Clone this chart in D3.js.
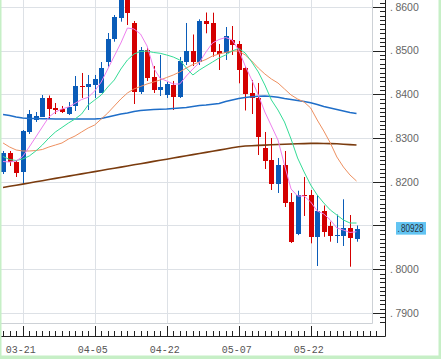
<!DOCTYPE html>
<html><head><meta charset="utf-8">
<script src="https://cdn.jsdelivr.net/npm/d3@7"></script>
<style>html,body{margin:0;padding:0;background:#fff}svg{display:block}</style>
</head><body>
<svg id="chart" width="441" height="359"></svg>
<script>
// ---- data ----
const dates = ["03-18","03-19","03-20","03-21","03-22","03-25","03-26","03-27","03-28","03-29",
"04-01","04-02","04-03","04-04","04-05","04-08","04-09","04-10","04-11","04-12",
"04-15","04-16","04-17","04-18","04-19","04-22","04-23","04-24","04-25","04-26",
"04-29","04-30","05-01","05-02","05-03","05-06","05-07","05-08","05-09","05-10",
"05-13","05-14","05-15","05-16","05-17","05-20","05-21","05-22","05-23","05-24",
"05-27","05-28","05-29","05-30","05-31"];
const open = [0.82224,0.82659,0.82453,0.82224,0.83140,0.83414,0.83490,0.83929,0.83689,0.83666,
0.83551,0.83735,0.84192,0.84158,0.84215,0.84039,0.84748,0.85261,0.85741,0.86229,
0.85634,0.84055,0.85016,0.84391,0.84101,0.83975,0.84226,0.83947,0.84748,0.84993,
0.84730,0.85687,0.85641,0.85000,0.84954,0.85245,0.85153,0.84597,0.84032,0.83911,
0.82773,0.82499,0.81950,0.82384,0.81545,0.80802,0.81698,0.81698,0.80741,0.81332,
0.80989,0.80764,0.80768,0.80936,0.80689];
const high = [0.82705,0.82705,0.82499,0.83185,0.83643,0.83597,0.83986,0.83975,0.83803,0.83735,
0.83826,0.84421,0.84490,0.84444,0.84444,0.84741,0.85405,0.85817,0.86343,0.86389,
0.85680,0.85085,0.85085,0.84650,0.84902,0.84284,0.84307,0.84856,0.85634,0.85371,
0.85719,0.85874,0.85870,0.85153,0.85542,0.85565,0.85222,0.84650,0.84330,0.84261,
0.83140,0.83002,0.82545,0.82705,0.81744,0.81796,0.82110,0.81812,0.81698,0.81458,
0.81087,0.81252,0.81600,0.81240,0.81000];
const low = [0.82178,0.82362,0.82110,0.81950,0.83094,0.83369,0.83483,0.83437,0.83551,0.83574,
0.83528,0.83620,0.83918,0.83643,0.83918,0.84032,0.84634,0.85206,0.85664,0.85588,
0.83780,0.84009,0.84307,0.84032,0.83963,0.83918,0.83643,0.83918,0.84673,0.84650,
0.84673,0.85398,0.84863,0.84558,0.84787,0.84902,0.84254,0.83632,0.83551,0.82613,
0.82293,0.81812,0.81744,0.81423,0.80599,0.80780,0.81218,0.80592,0.80073,0.80741,
0.80629,0.80599,0.80531,0.80057,0.80629];
const close = [0.82659,0.82453,0.82208,0.83162,0.83551,0.83506,0.83929,0.83677,0.83632,0.83597,
0.83712,0.84192,0.84158,0.84238,0.84352,0.84597,0.85261,0.85764,0.86252,0.85856,
0.84055,0.85016,0.84375,0.84101,0.84169,0.84238,0.83941,0.84764,0.84993,0.84748,
0.85687,0.85611,0.84977,0.84924,0.85336,0.85130,0.84558,0.84009,0.83911,0.83032,
0.82483,0.81950,0.82384,0.81522,0.80629,0.81698,0.81675,0.80741,0.81332,0.80849,
0.80768,0.80791,0.80936,0.80705,0.80928];
const ma5 = [0.82464,0.82453,0.82476,0.82579,0.82796,0.83025,0.83254,0.83483,0.83597,0.83666,
0.83712,0.83796,0.83883,0.83934,0.84078,0.84284,0.84581,0.84879,0.85176,0.85519,
0.85497,0.85382,0.85108,0.84604,0.84368,0.84307,0.84238,0.84238,0.84421,0.84581,
0.84730,0.84970,0.85176,0.85256,0.85302,0.85245,0.85016,0.84650,0.84330,0.83986,
0.83597,0.83277,0.82957,0.82384,0.81835,0.81675,0.81675,0.81538,0.81332,0.81263,
0.81126,0.80943,0.80897,0.80840,0.80858];
const ma10 = [0.82579,0.82510,0.82487,0.82522,0.82590,0.82705,0.82842,0.83002,0.83140,0.83243,
0.83346,0.83437,0.83551,0.83757,0.83872,0.83986,0.84169,0.84330,0.84581,0.84787,
0.84924,0.84982,0.84993,0.84959,0.84941,0.84902,0.84856,0.84787,0.84604,0.84444,
0.84558,0.84650,0.84741,0.84833,0.84902,0.84993,0.85050,0.84947,0.84741,0.84513,
0.84215,0.83872,0.83643,0.83368,0.82979,0.82545,0.82224,0.81927,0.81698,0.81515,
0.81355,0.81240,0.81126,0.81057,0.81057];
const ma25 = [0.82888,0.82796,0.82728,0.82705,0.82705,0.82716,0.82739,0.82796,0.82842,0.82888,
0.82979,0.83048,0.83140,0.83231,0.83300,0.83437,0.83574,0.83735,0.83895,0.84032,
0.84124,0.84181,0.84238,0.84284,0.84330,0.84387,0.84444,0.84513,0.84604,0.84684,
0.84741,0.84799,0.84879,0.84924,0.84959,0.84993,0.84993,0.84902,0.84764,0.84604,
0.84467,0.84352,0.84261,0.84124,0.83986,0.83895,0.83826,0.83689,0.83414,0.83163,
0.82888,0.82568,0.82339,0.82156,0.82018];
const ma75 = [0.83540,0.83517,0.83483,0.83460,0.83449,0.83449,0.83444,0.83442,0.83437,0.83437,
0.83437,0.83437,0.83437,0.83437,0.83437,0.83449,0.83483,0.83517,0.83551,0.83574,
0.83609,0.83632,0.83643,0.83655,0.83659,0.83666,0.83677,0.83689,0.83700,0.83723,
0.83746,0.83757,0.83773,0.83792,0.83838,0.83872,0.83906,0.83929,0.83947,0.83956,
0.83963,0.83952,0.83934,0.83906,0.83883,0.83860,0.83838,0.83810,0.83769,0.83723,
0.83689,0.83655,0.83620,0.83586,0.83563];
const ma200 = [0.81870,0.81897,0.81922,0.81947,0.81973,0.82000,0.82025,0.82053,0.82078,0.82103,
0.82130,0.82156,0.82181,0.82206,0.82233,0.82259,0.82286,0.82311,0.82336,0.82362,
0.82389,0.82414,0.82439,0.82467,0.82492,0.82517,0.82545,0.82570,0.82595,0.82622,
0.82648,0.82673,0.82700,0.82725,0.82751,0.82778,0.82803,0.82819,0.82826,0.82833,
0.82840,0.82847,0.82854,0.82858,0.82865,0.82870,0.82874,0.82879,0.82879,0.82877,
0.82874,0.82870,0.82860,0.82851,0.82842];
const priceTicks = [0.79,0.80,0.81,0.82,0.83,0.84,0.85,0.86];
const priceLabels = ["7900","8000","8100","8200","8300","8400","8500","8600"];
const dateTicks = ["03-21","04-05","04-22","05-07","05-22"];
const lastPrice = 0.80928;
const lastLabel = "80928";

// ---- layout ----
const W = 441, H = 359;
const plotR = 372, plotB = 323, axisX = 385, axisY = 336;
const svg = d3.select("#chart");
svg.append("rect").attr("width", W).attr("height", H).attr("fill", "#fff");

const x = d3.scaleLinear().domain([0, dates.length - 1]).range([3.06, 356.5]);
const y = d3.scaleLinear().domain([0.79, 0.86]).range([312.9, 7]);
const px = v => Math.round(x(v)) + 0.5;
const py = v => Math.round(y(v)) + 0.5;

svg.append("clipPath").attr("id", "clip").append("rect")
  .attr("x", 0).attr("y", 0).attr("width", plotR).attr("height", plotB);

// grid
const grid = svg.append("g").attr("stroke", "#dde1e6").attr("stroke-width", 1);
priceTicks.forEach(v => grid.append("line").attr("x1", 0).attr("x2", plotR)
  .attr("y1", py(v)).attr("y2", py(v)));
dateTicks.forEach(d => { const i = dates.indexOf(d);
  grid.append("line").attr("x1", px(i)).attr("x2", px(i)).attr("y1", 0).attr("y2", plotB); });

// frame
svg.append("path").attr("d", `M${plotR + 0.5},0V${plotB + 0.5}H0`)
  .attr("fill", "none").attr("stroke", "#cdd1d6");

// candles
const plot = svg.append("g").attr("clip-path", "url(#clip)");
const up = "#0a5cb8", down = "#d40000";
dates.forEach((d, i) => {
  const c = close[i] >= open[i] ? up : down;
  plot.append("line").attr("x1", px(i)).attr("x2", px(i))
    .attr("y1", y(high[i])).attr("y2", y(low[i])).attr("stroke", c).attr("stroke-width", 1);
  const top = y(Math.max(open[i], close[i])), bot = y(Math.min(open[i], close[i]));
  plot.append("rect").attr("x", Math.round(x(i)) - 2).attr("width", 5)
    .attr("y", Math.round(top)).attr("height", Math.max(1, Math.round(bot) - Math.round(top)))
    .attr("fill", c);
});

// moving averages
const line = d3.line().x((d, i) => x(i)).y(d => y(d));
[[ma200, "#7a3b0e", 1.6], [ma75, "#1f6ec8", 1.5], [ma25, "#ee9060", 1],
 [ma10, "#34dc96", 1], [ma5, "#ee80ee", 1]].forEach(([arr, col, w]) => {
  plot.append("path").datum(arr).attr("d", line).attr("fill", "none")
    .attr("stroke", col).attr("stroke-width", w);
});

// right axis
const ax = svg.append("g").attr("stroke", "#222").attr("stroke-width", 1);
ax.append("path").attr("d", `M${axisX + 0.5},0V${axisY + 0.5}H0`).attr("fill", "none");
d3.range(788, 862).forEach(m => {
  const v = m / 1000, isMajor = m % 10 === 0;
  const yy = py(v);
  if (yy > axisY) return;
  ax.append("line").attr("x1", axisX - (isMajor ? 12 : 5)).attr("x2", axisX)
    .attr("y1", yy).attr("y2", yy);
});
priceTicks.forEach((v, i) => {
  if (Math.abs(v - 0.81) < 1e-9) return;
  const t = svg.append("text").attr("x", 390).attr("y", y(v)).attr("dy", "0.36em")
    .attr("font-family", "Liberation Sans, Arial, sans-serif").attr("font-size", 10.5)
    .attr("fill", "#666").text(".");
  t.append("tspan").attr("dx", 2.5).text(priceLabels[i]);
});
// last price marker
svg.append("rect").attr("x", 396).attr("y", y(lastPrice) - 6.6).attr("width", 30).attr("height", 12.6)
  .attr("fill", "#62c4f2");
const lt = svg.append("text").attr("x", 397.5).attr("y", y(lastPrice)).attr("dy", "0.36em")
  .attr("font-family", "Liberation Sans, Arial, sans-serif").attr("font-size", 10.5)
  .attr("fill", "#2a3340").attr("textLength", 26).attr("lengthAdjust", "spacingAndGlyphs").text(".");
lt.append("tspan").attr("dx", 1.5).text(lastLabel);

// bottom axis ticks
d3.range(0, 58).forEach(i => {
  const xx = px(i);
  if (xx > axisX) return;
  const isMajor = dateTicks.includes(dates[i]);
  ax.append("line").attr("x1", xx).attr("x2", xx)
    .attr("y1", axisY - (isMajor ? 10 : 5)).attr("y2", axisY);
});
dateTicks.forEach(d => {
  const i = dates.indexOf(d);
  svg.append("text").attr("x", x(i) - 2).attr("y", 349).attr("dy", "0.35em")
    .attr("text-anchor", "middle").attr("font-family", "Liberation Mono, Courier New, monospace")
    .attr("font-size", 10).attr("fill", "#555").text(d);
});

// outer green border
svg.append("rect").attr("x", 0).attr("y", 0).attr("width", 1.5).attr("height", H).attr("fill", "#c6efc6");
svg.append("rect").attr("x", 438.5).attr("y", 0).attr("width", 2.5).attr("height", H).attr("fill", "#c6efc6");
svg.append("rect").attr("x", 0).attr("y", 355.5).attr("width", W).attr("height", 3.5).attr("fill", "#c6efc6");
</script>
</body></html>
